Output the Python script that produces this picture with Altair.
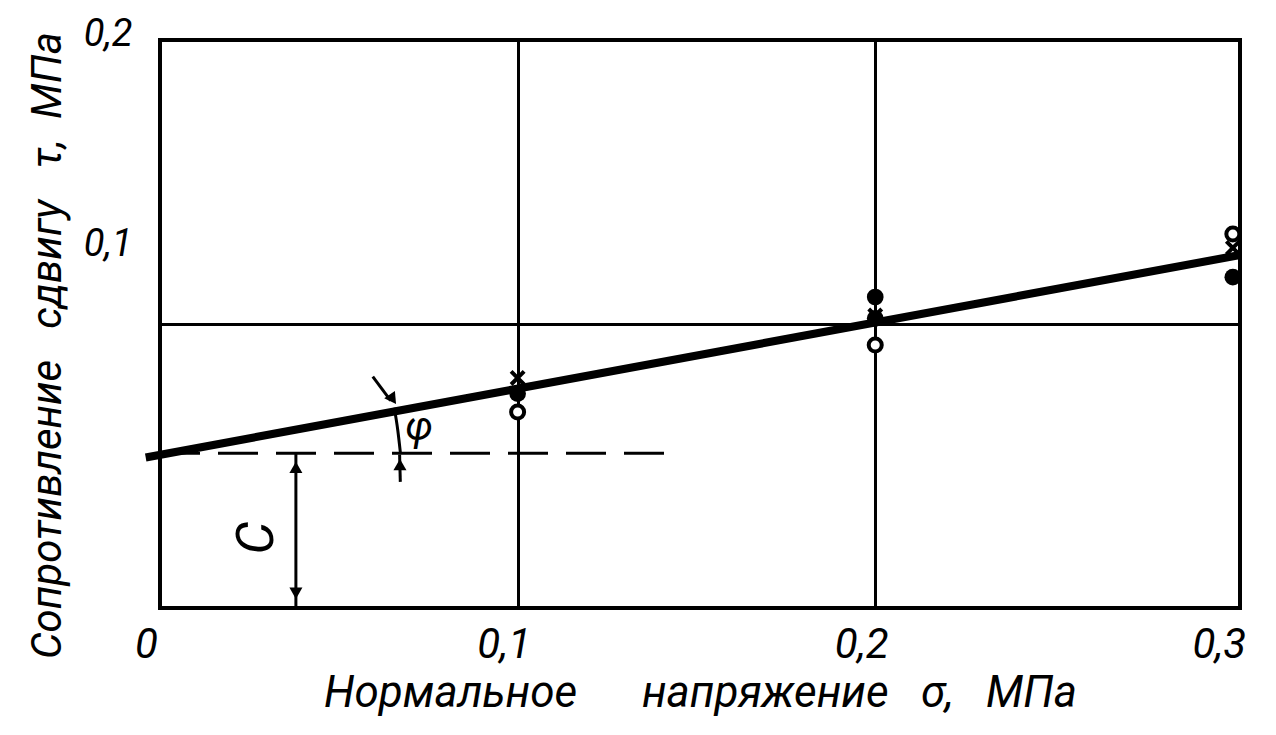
import altair as alt
import pandas as pd

FONT = "Roboto, Liberation Sans Narrow, DejaVu Sans Condensed, sans-serif"
NB = "\u00a0"

# axis ticks
x_ticks = [0, 0.1, 0.2, 0.3]
y_ticks = [0.1, 0.2]

# measured points
filled_x = [0.1, 0.2, 0.2, 0.3]
filled_y = [0.0755, 0.1095, 0.102, 0.1165]
open_x = [0.1, 0.2, 0.3]
open_y = [0.069, 0.0926, 0.1317]
cross_x = [0.1, 0.2, 0.3]
cross_y = [0.081, 0.103, 0.1268]

# fitted straight line (Coulomb)
fit_x = [-0.004, 0.302]
fit_y = [0.053, 0.1243]

# cohesion C level (dashed)
c_level = 0.0545
dash_x = [0.0, 0.142]
c_arrow_x = 0.038

# angle phi marker
phi_x = [0.0655, 0.0665, 0.0672]
phi_y = [0.0705, 0.0625, 0.0549]

x_scale = alt.Scale(domain=[0, 0.302], nice=False, zero=False)
y_scale = alt.Scale(domain=[0, 0.2], nice=False, zero=False)

x_title = "Нормальное" + NB * 6 + "напряжение" + NB * 3 + "σ," + NB * 3 + "МПа"
y_title = "Сопротивление" + NB * 3 + "сдвигу" + NB * 3 + "τ," + NB * 2 + "МПа"

x_axis = alt.Axis(
    values=x_ticks, title=x_title,
    labelExpr="datum.value == 0 ? '0' : replace(format(datum.value, '.1f'), '.', ',')",
    ticks=False, domain=False, grid=True, gridColor="black", gridWidth=3,
    gridOpacity={"condition": {"test": "datum.value > 0.05 && datum.value < 0.25", "value": 1}, "value": 0},
    labelFont=FONT, labelFontStyle="italic", labelFontSize=42, labelColor="black",
    labelPadding=16, labelOffset=-14, labelFlush=False,
    titleFont=FONT, titleFontStyle="italic", titleFontSize=44, titleFontWeight="normal",
    titleColor="black", titlePadding=6,
)
y_axis = alt.Axis(
    values=y_ticks, title=y_title,
    labelExpr="replace(format(datum.value, '.1f'), '.', ',')",
    ticks=False, domain=False, grid=True, gridColor="black", gridWidth=3,
    gridOpacity={"condition": {"test": "datum.value < 0.15", "value": 1}, "value": 0},
    labelFont=FONT, labelFontStyle="italic", labelFontSize=38, labelColor="black",
    labelPadding=28, labelFlush=False,
    labelOffset={"condition": {"test": "datum.value > 0.15", "value": -6}, "value": -80},
    titleFont=FONT, titleFontStyle="italic", titleFontSize=42, titleFontWeight="normal",
    titleColor="black", titlePadding=14, titleY=305,
)

fit_df = pd.DataFrame({"x": fit_x, "y": fit_y})
fit = alt.Chart(fit_df).mark_line(color="black", strokeWidth=8, clip=False).encode(
    x=alt.X("x:Q", scale=x_scale, axis=x_axis),
    y=alt.Y("y:Q", scale=y_scale, axis=y_axis),
)

dash_df = pd.DataFrame({"x": dash_x, "y": [c_level, c_level]})
dash = alt.Chart(dash_df).mark_line(color="black", strokeWidth=3, strokeDash=[40, 18]).encode(
    x=alt.X("x:Q", scale=x_scale), y=alt.Y("y:Q", scale=y_scale)
)

seg_df = pd.DataFrame({
    "x": [c_arrow_x, 0.0595, 0.0672],
    "x2": [c_arrow_x, 0.0645, 0.0670],
    "y": [0.0, 0.0815, 0.0444],
    "y2": [c_level, 0.0730, 0.0540],
})
segs = alt.Chart(seg_df).mark_rule(color="black", strokeWidth=3).encode(
    x=alt.X("x:Q", scale=x_scale), x2="x2:Q",
    y=alt.Y("y:Q", scale=y_scale), y2="y2:Q",
)

arc_df = pd.DataFrame({"x": phi_x, "y": phi_y})
arc = alt.Chart(arc_df).mark_line(color="black", strokeWidth=3, interpolate="monotone").encode(
    x=alt.X("x:Q", scale=x_scale), y=alt.Y("y:Q", scale=y_scale), order=alt.Order("y:Q")
)

tri_df = pd.DataFrame({
    "x": [c_arrow_x, c_arrow_x, 0.0651, 0.0671],
    "y": [0.0495, 0.0052, 0.0735, 0.0505],
    "shape": ["triangle-up", "triangle-down", "triangle-down", "triangle-up"],
    "angle": [0, 0, 325, 0],
})
tris = alt.Chart(tri_df).mark_point(filled=True, color="black", size=170, opacity=1).encode(
    x=alt.X("x:Q", scale=x_scale), y=alt.Y("y:Q", scale=y_scale),
    shape=alt.Shape("shape:N", scale=None), angle=alt.Angle("angle:Q", scale=None),
)

filled_df = pd.DataFrame({"x": filled_x, "y": filled_y})
filled = alt.Chart(filled_df).mark_point(filled=True, color="black", size=280, opacity=1).encode(
    x=alt.X("x:Q", scale=x_scale), y=alt.Y("y:Q", scale=y_scale)
)

open_df = pd.DataFrame({"x": open_x, "y": open_y})
opn = alt.Chart(open_df).mark_point(filled=False, color="black", fill="white", size=170,
                                     strokeWidth=4, opacity=1).encode(
    x=alt.X("x:Q", scale=x_scale), y=alt.Y("y:Q", scale=y_scale)
)

cross_df = pd.DataFrame({"x": cross_x, "y": cross_y})
cross = alt.Chart(cross_df).mark_point(shape="M-1,-1L1,1M1,-1L-1,1", filled=False, color="black",
                                        size=170, strokeWidth=4, opacity=1).encode(
    x=alt.X("x:Q", scale=x_scale), y=alt.Y("y:Q", scale=y_scale)
)

text_df = pd.DataFrame({"x": [0.0725, 0.027], "y": [0.0635, 0.0246], "t": ["φ", "С"],
                        "angle": [0, 270], "size": [40, 52]})
texts = alt.Chart(text_df).mark_text(font=FONT, fontStyle="italic", color="black").encode(
    x=alt.X("x:Q", scale=x_scale), y=alt.Y("y:Q", scale=y_scale), text="t:N",
    angle=alt.Angle("angle:Q", scale=None), size=alt.Size("size:Q", scale=None, legend=None),
)

chart = alt.layer(fit, dash, segs, arc, tris, cross, filled, opn, texts).properties(
    width=1080, height=568,
    autosize=alt.AutoSizeParams(type="none"),
    padding={"left": 152, "top": 32, "right": 28, "bottom": 119},
    background="white",
).configure_view(stroke="black", strokeWidth=4)

chart.save("out.html", embed_options={"renderer": "svg", "actions": False})
